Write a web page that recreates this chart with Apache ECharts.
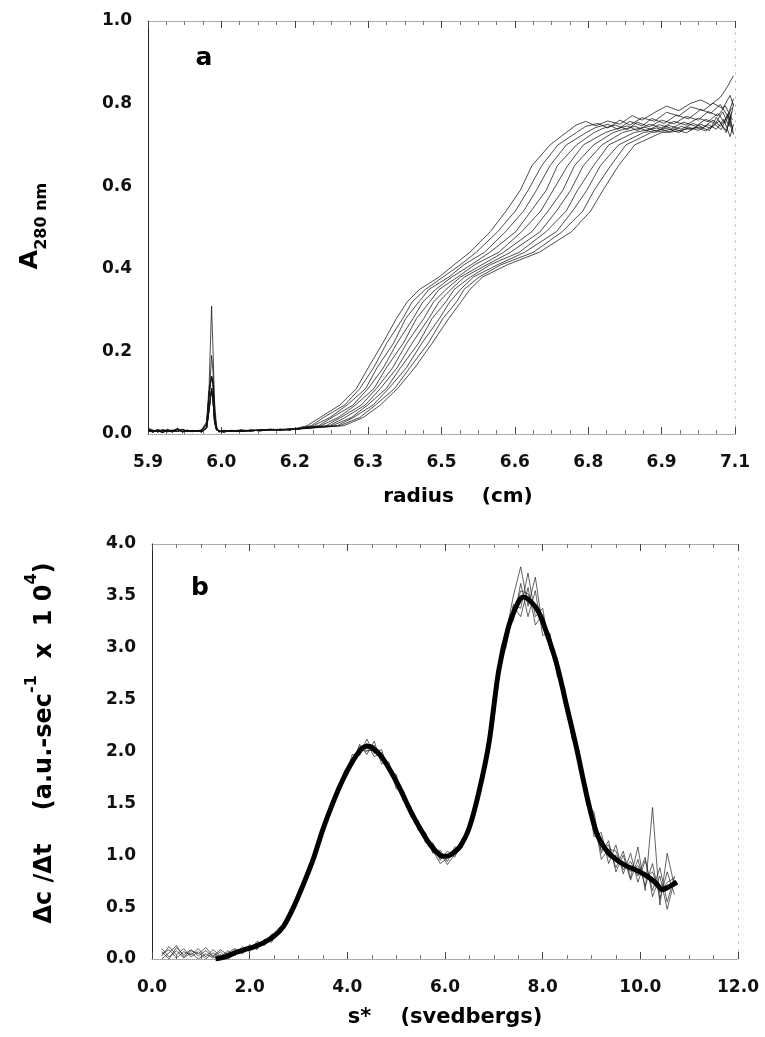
<!DOCTYPE html>
<html><head><meta charset="utf-8">
<script src="https://cdn.jsdelivr.net/npm/echarts@6/dist/echarts.min.js"></script>
<style>html,body{margin:0;padding:0;background:#fff}#c{width:765px;height:1037px}</style>
</head><body><div id="c"></div>
<script>
// ---------- Panel a : absorbance scans ----------
const topXLabels = ['5.9','6.0','6.2','6.3','6.5','6.6','6.8','6.9','7.1'];
const topYLabels = ['0.0','0.2','0.4','0.6','0.8','1.0'];
const baseR = [5.900,5.910,5.920,5.930,5.940,5.950,5.960,5.970,5.980,5.990,6.000,6.010,6.020,6.025,6.030,6.033,6.036,6.040,6.045,6.055,6.070,6.090,6.110,6.130,6.150,6.170,6.190,6.200];
const baseA = [0.016,0.008,0.010,0.006,0.012,0.007,0.014,0.008,0.006,0.009,0.007,0.011,0.030,0.120,0.310,0.200,0.080,0.020,0.006,0.009,0.007,0.010,0.008,0.011,0.009,0.012,0.011,0.013];
const baseB = [0.012,0.006,0.011,0.008,0.005,0.010,0.009,0.006,0.010,0.005,0.009,0.006,0.020,0.090,0.190,0.150,0.060,0.015,0.008,0.006,0.009,0.007,0.010,0.009,0.012,0.010,0.013,0.012];
const baseC = [0.010,0.009,0.005,0.010,0.007,0.008,0.006,0.011,0.007,0.008,0.006,0.009,0.025,0.100,0.140,0.120,0.050,0.012,0.005,0.008,0.006,0.009,0.007,0.010,0.011,0.009,0.012,0.011];
const baseD = [0.008,0.005,0.008,0.004,0.009,0.005,0.012,0.005,0.008,0.006,0.008,0.005,0.015,0.060,0.110,0.080,0.030,0.010,0.007,0.005,0.008,0.006,0.009,0.008,0.010,0.011,0.010,0.012];
const riseLevels = [0.02,0.04,0.07,0.11,0.16,0.22,0.28,0.32,0.35,0.38,0.41,0.44,0.49,0.54,0.59,0.65,0.70,0.73];
const rise1  = [6.225,6.252,6.292,6.326,6.350,6.380,6.408,6.430,6.455,6.495,6.526,6.558,6.600,6.632,6.661,6.685,6.722,6.755];
const rise2  = [6.234,6.259,6.302,6.333,6.361,6.388,6.421,6.440,6.467,6.503,6.539,6.571,6.615,6.651,6.677,6.705,6.738,6.776];
const rise3  = [6.238,6.272,6.307,6.345,6.368,6.402,6.427,6.454,6.474,6.515,6.546,6.588,6.631,6.668,6.694,6.722,6.755,6.796];
const rise4  = [6.249,6.276,6.319,6.350,6.381,6.409,6.442,6.462,6.488,6.521,6.561,6.599,6.652,6.683,6.714,6.737,6.776,6.812];
const rise5  = [6.253,6.289,6.324,6.362,6.387,6.422,6.449,6.476,6.495,6.533,6.568,6.617,6.664,6.703,6.728,6.758,6.790,6.835];
const rise6  = [6.264,6.294,6.336,6.367,6.400,6.429,6.464,6.484,6.509,6.539,6.583,6.627,6.685,6.718,6.748,6.772,6.811,6.851];
const rise7  = [6.271,6.303,6.344,6.375,6.409,6.440,6.474,6.495,6.519,6.547,6.593,6.641,6.702,6.735,6.764,6.790,6.828,6.870];
const rise8  = [6.276,6.316,6.349,6.387,6.416,6.453,6.481,6.509,6.526,6.559,6.600,6.659,6.714,6.755,6.778,6.811,6.842,6.894];
const rise9  = [6.287,6.320,6.360,6.392,6.428,6.460,6.496,6.517,6.539,6.565,6.615,6.670,6.735,6.768,6.797,6.825,6.862,6.913];
const rise10 = [6.292,6.333,6.365,6.404,6.435,6.473,6.503,6.531,6.546,6.577,6.622,6.688,6.747,6.789,6.812,6.846,6.877,6.929];
const rise11 = [6.300,6.340,6.375,6.410,6.445,6.481,6.515,6.540,6.558,6.584,6.635,6.700,6.766,6.805,6.830,6.862,6.895,6.950];
const plateau1  = [[6.775,0.748],[6.795,0.757],[6.815,0.746],[6.84,0.758],[6.865,0.750],[6.89,0.771],[6.91,0.760],[6.935,0.778],[6.96,0.794],[6.985,0.783],[7.01,0.801],[7.03,0.809],[7.05,0.797],[7.07,0.815],[7.085,0.842],[7.097,0.868]];
const plateau2  = [[6.795,0.745],[6.82,0.752],[6.84,0.741],[6.865,0.760],[6.885,0.748],[6.91,0.766],[6.935,0.757],[6.96,0.779],[6.985,0.770],[7.01,0.792],[7.035,0.783],[7.055,0.801],[7.075,0.788],[7.09,0.820],[7.097,0.795]];
const plateau3  = [[6.815,0.742],[6.84,0.750],[6.86,0.738],[6.885,0.757],[6.91,0.746],[6.93,0.764],[6.955,0.752],[6.98,0.772],[7.005,0.763],[7.03,0.786],[7.05,0.776],[7.07,0.798],[7.085,0.770],[7.097,0.812]];
const plateau4  = [[6.83,0.740],[6.855,0.748],[6.88,0.737],[6.90,0.755],[6.925,0.744],[6.95,0.760],[6.975,0.751],[7.0,0.769],[7.025,0.760],[7.045,0.781],[7.065,0.770],[7.08,0.795],[7.095,0.760]];
const plateau5  = [[6.855,0.738],[6.88,0.746],[6.90,0.735],[6.925,0.750],[6.95,0.741],[6.975,0.757],[7.0,0.748],[7.025,0.765],[7.045,0.756],[7.065,0.776],[7.08,0.752],[7.093,0.790]];
const plateau6  = [[6.87,0.737],[6.895,0.745],[6.92,0.734],[6.945,0.749],[6.97,0.740],[6.995,0.755],[7.02,0.745],[7.04,0.762],[7.06,0.752],[7.075,0.780],[7.088,0.745],[7.097,0.800]];
const plateau7  = [[6.89,0.736],[6.915,0.743],[6.94,0.733],[6.965,0.747],[6.99,0.738],[7.015,0.752],[7.035,0.742],[7.055,0.760],[7.07,0.745],[7.085,0.770],[7.095,0.730]];
const plateau8  = [[6.915,0.735],[6.94,0.741],[6.965,0.731],[6.99,0.745],[7.01,0.737],[7.03,0.750],[7.05,0.740],[7.068,0.758],[7.082,0.730],[7.093,0.780]];
const plateau9  = [[6.935,0.734],[6.96,0.740],[6.985,0.730],[7.005,0.743],[7.025,0.735],[7.045,0.749],[7.062,0.738],[7.077,0.762],[7.09,0.720],[7.097,0.750]];
const plateau10 = [[6.95,0.733],[6.975,0.739],[7.0,0.729],[7.02,0.742],[7.04,0.734],[7.058,0.750],[7.072,0.737],[7.085,0.775],[7.095,0.740]];
const plateau11 = [[6.97,0.731],[7.0,0.738],[7.028,0.743],[7.048,0.735],[7.062,0.767],[7.075,0.745],[7.083,0.734],[7.09,0.770],[7.097,0.725]];

// ---------- Panel b : dc/dt distributions ----------
const botXLabels = ['0.0','2.0','4.0','6.0','8.0','10.0','12.0'];
const botYLabels = ['0.0','0.5','1.0','1.5','2.0','2.5','3.0','3.5','4.0'];
const sGrid = [0.20,0.35,0.50,0.65,0.80,0.95,1.10,1.25,1.40,1.55,1.70,1.85,2.00,2.15,2.30,2.45,2.60,2.75,2.90,3.05,3.20,3.35,3.50,3.65,3.80,3.95,4.10,4.25,4.40,4.55,4.70,4.85,5.00,5.15,5.30,5.45,5.60,5.75,5.90,6.05,6.20,6.35,6.50,6.65,6.80,6.95,7.10,7.25,7.40,7.55,7.70,7.85,8.00,8.15,8.30,8.45,8.60,8.75,8.90,9.05,9.20,9.35,9.50,9.65,9.80,9.95,10.10,10.25,10.40,10.55,10.70];
const thinA = [0.10,0.02,0.08,0.01,0.06,0.00,0.05,0.01,0.04,0.02,0.09,0.05,0.14,0.09,0.19,0.16,0.30,0.34,0.53,0.64,0.87,1.00,1.28,1.41,1.66,1.74,1.97,1.96,2.12,1.98,2.02,1.80,1.78,1.52,1.47,1.24,1.22,1.02,1.05,0.94,1.08,1.07,1.31,1.49,1.88,2.21,2.82,3.05,3.42,3.38,3.72,3.30,3.38,2.98,2.90,2.44,2.30,1.82,1.66,1.18,1.22,0.92,1.10,0.82,1.02,0.74,0.95,0.66,0.88,0.55,0.80];
const thinB = [0.03,0.12,0.04,0.10,0.02,0.07,0.00,0.06,0.01,0.08,0.03,0.12,0.07,0.17,0.14,0.24,0.25,0.40,0.47,0.69,0.81,1.07,1.21,1.48,1.57,1.82,1.86,2.07,1.97,2.10,1.88,1.90,1.64,1.62,1.37,1.34,1.12,1.12,0.95,1.04,0.98,1.16,1.23,1.56,1.80,2.28,2.74,3.18,3.26,3.62,3.30,3.55,3.12,3.14,2.72,2.62,2.12,2.00,1.48,1.42,1.02,1.14,0.84,1.00,0.76,0.96,0.70,0.92,0.58,0.84,0.62];
const thinC = [0.07,0.00,0.11,0.04,0.09,0.03,0.08,0.02,0.07,0.00,0.05,0.10,0.09,0.12,0.18,0.21,0.29,0.35,0.49,0.67,0.85,1.01,1.26,1.46,1.60,1.80,1.88,2.02,2.00,2.06,1.92,1.86,1.69,1.60,1.40,1.30,1.15,1.05,0.92,0.97,1.05,1.09,1.28,1.53,1.83,2.26,2.76,3.14,3.50,3.78,3.40,3.68,3.20,3.02,2.86,2.50,2.25,1.86,1.62,1.26,1.05,1.10,0.88,1.04,0.78,1.08,0.66,1.46,0.52,1.02,0.70];
const thinD = [0.05,0.09,0.01,0.07,0.04,0.10,0.02,0.09,0.03,0.06,0.10,0.06,0.11,0.15,0.13,0.22,0.26,0.38,0.51,0.65,0.83,1.05,1.23,1.43,1.63,1.76,1.93,1.98,2.08,1.95,1.99,1.82,1.75,1.55,1.45,1.26,1.20,1.03,1.02,0.91,1.01,1.13,1.25,1.50,1.86,2.23,2.80,3.00,3.40,3.30,3.58,3.22,3.32,3.08,2.78,2.56,2.18,1.95,1.52,1.36,0.96,1.06,1.04,0.86,0.94,0.80,0.98,0.60,0.80,0.48,0.76];
const thinE = [0.00,0.06,0.13,0.02,0.08,0.05,0.11,0.03,0.09,0.04,0.07,0.09,0.12,0.10,0.17,0.19,0.28,0.37,0.48,0.68,0.82,1.04,1.24,1.45,1.62,1.78,1.91,2.05,2.01,2.01,1.97,1.83,1.73,1.58,1.43,1.28,1.18,1.08,0.97,1.01,1.02,1.12,1.26,1.54,1.82,2.25,2.79,3.12,3.30,3.55,3.52,3.36,3.28,3.00,2.85,2.48,2.20,1.88,1.55,1.32,1.15,0.98,1.00,0.92,0.84,0.90,0.78,0.84,0.64,0.74,0.78];
const boldS = [1.3,1.5,1.7,1.9,2.1,2.3,2.5,2.7,2.9,3.1,3.3,3.5,3.7,3.9,4.1,4.3,4.4,4.5,4.7,4.9,5.1,5.3,5.5,5.7,5.9,6.0,6.1,6.3,6.5,6.7,6.9,7.1,7.3,7.5,7.6,7.7,7.9,8.1,8.3,8.5,8.7,8.9,9.1,9.3,9.5,9.7,9.9,10.1,10.3,10.45,10.6,10.75];
const boldV = [0.00,0.02,0.06,0.09,0.12,0.16,0.22,0.32,0.50,0.72,0.96,1.25,1.50,1.72,1.90,2.03,2.05,2.04,1.95,1.80,1.62,1.42,1.25,1.10,1.00,0.99,1.00,1.08,1.27,1.62,2.08,2.78,3.20,3.44,3.49,3.47,3.36,3.12,2.82,2.42,2.02,1.58,1.22,1.05,0.96,0.90,0.86,0.81,0.74,0.67,0.70,0.74];

// ---------- build ----------
const pairs = (xs, ys) => xs.map((x, i) => [x, ys[i]]);
const topCurves = [
  [baseA, rise1, plateau1], [baseB, rise2, plateau2], [baseC, rise3, plateau3],
  [baseD, rise4, plateau4], [baseC, rise5, plateau5], [baseD, rise6, plateau6],
  [baseC, rise7, plateau7], [baseD, rise8, plateau8], [baseD, rise9, plateau9],
  [baseC, rise10, plateau10], [baseD, rise11, plateau11]
];
const FONT = 'DejaVu Sans';
const lbl = (arr, min, step) => (v) => arr[Math.round((v - min) / step)] || '';
const labelStyle = { fontFamily: FONT, fontWeight: 'bold', fontSize: 17, color: '#111' };

const series = [];
topCurves.forEach(([b, r, p]) => {
  series.push({ type: 'line', xAxisIndex: 0, yAxisIndex: 0, symbol: 'none', silent: true,
    data: pairs(baseR, b).concat(pairs(r, riseLevels)).concat(p),
    lineStyle: { width: 0.75, color: '#111' } });
});
[thinA, thinB, thinC, thinD, thinE].forEach(t => {
  series.push({ type: 'line', xAxisIndex: 2, yAxisIndex: 2, symbol: 'none', silent: true,
    data: pairs(sGrid, t), lineStyle: { width: 0.7, color: '#222' } });
});
series.push({ type: 'line', xAxisIndex: 2, yAxisIndex: 2, symbol: 'none', silent: true, smooth: 0.3,
  data: pairs(boldS, boldV), lineStyle: { width: 5, color: '#000' } });

const dotted = { show: true, onZero: false, lineStyle: { type: 'dotted', color: '#999', width: 1 } };
const faint = { show: true, onZero: false, lineStyle: { type: [1, 7], color: '#aaa', width: 1 } };
function xAx(grid, pos, min, max, interval, labels, margin) {
  return {
    type: 'value', gridIndex: grid, position: pos, min, max, interval,
    axisLine: dotted,
    axisTick: { show: true, inside: true, length: 7, lineStyle: { color: '#444', width: 1 } },
    minorTick: { show: true, splitNumber: 4, length: 4, lineStyle: { color: '#777', width: 1 } },
    splitLine: { show: false },
    axisLabel: labels ? Object.assign({ show: true, margin, formatter: lbl(labels, min, interval) }, labelStyle) : { show: false }
  };
}
function yAx(grid, pos, min, max, interval, labels, margin) {
  return {
    type: 'value', gridIndex: grid, position: pos, min, max, interval,
    axisLine: labels ? { show: true, onZero: false, lineStyle: { color: '#222', width: 1 } } : faint,
    axisTick: { show: false }, splitLine: { show: false },
    axisLabel: labels ? Object.assign({ show: true, margin, formatter: lbl(labels, min, interval) }, labelStyle) : { show: false }
  };
}

const option = {
  animation: false,
  backgroundColor: '#fff',
  grid: [
    { left: 148, top: 21, width: 587, height: 413 },
    { left: 152, top: 544, width: 586, height: 415 }
  ],
  xAxis: [
    xAx(0, 'bottom', 5.9, 7.1, 0.15, topXLabels, 20),
    xAx(0, 'top', 5.9, 7.1, 0.15, null),
    xAx(1, 'bottom', 0, 12, 2, botXLabels, 20),
    xAx(1, 'top', 0, 12, 2, null)
  ],
  yAxis: [
    yAx(0, 'left', 0, 1, 0.2, topYLabels, 16),
    yAx(0, 'right', 0, 1, 0.2, null),
    yAx(1, 'left', 0, 4, 0.5, botYLabels, 16),
    yAx(1, 'right', 0, 4, 0.5, null)
  ],
  series,
  graphic: [
    { type: 'text', x: 204, y: 58, style: { text: 'a', font: 'bold 25px "DejaVu Sans"', fill: '#000', align: 'center', verticalAlign: 'middle' } },
    { type: 'text', x: 200, y: 588, style: { text: 'b', font: 'bold 25px "DejaVu Sans"', fill: '#000', align: 'center', verticalAlign: 'middle' } },
    { type: 'text', x: 458, y: 497, style: { text: 'radius    (cm)', font: 'bold 20px "DejaVu Sans"', fill: '#000', align: 'center', verticalAlign: 'middle' } },
    { type: 'text', x: 445, y: 1018, style: { text: 's*    (svedbergs)', font: 'bold 21px "DejaVu Sans"', fill: '#000', align: 'center', verticalAlign: 'middle' } },
    { type: 'text', x: 34, y: 226, rotation: Math.PI / 2,
      style: { text: '{m|A}{s|280 nm}', align: 'center', verticalAlign: 'middle', fill: '#000',
        rich: { m: { font: 'bold 25px "DejaVu Sans"', lineHeight: 32, verticalAlign: 'top' },
                s: { font: 'bold 16px "DejaVu Sans"', lineHeight: 32, verticalAlign: 'bottom' } } } },
    { type: 'text', x: 40, y: 743, rotation: Math.PI / 2,
      style: { text: '{m|\u0394c /\u0394t    (a.u.-sec}{s|-1}{m|  x  1 0}{s|4}{m|)}', align: 'center', verticalAlign: 'middle', fill: '#000',
        rich: { m: { font: 'bold 24px "DejaVu Sans"', lineHeight: 33, verticalAlign: 'bottom' },
                s: { font: 'bold 16px "DejaVu Sans"', lineHeight: 33, verticalAlign: 'top' } } } }
  ]
};
const chart = echarts.init(document.getElementById('c'), null, { renderer: 'canvas' });
chart.setOption(option);
</script></body></html>
